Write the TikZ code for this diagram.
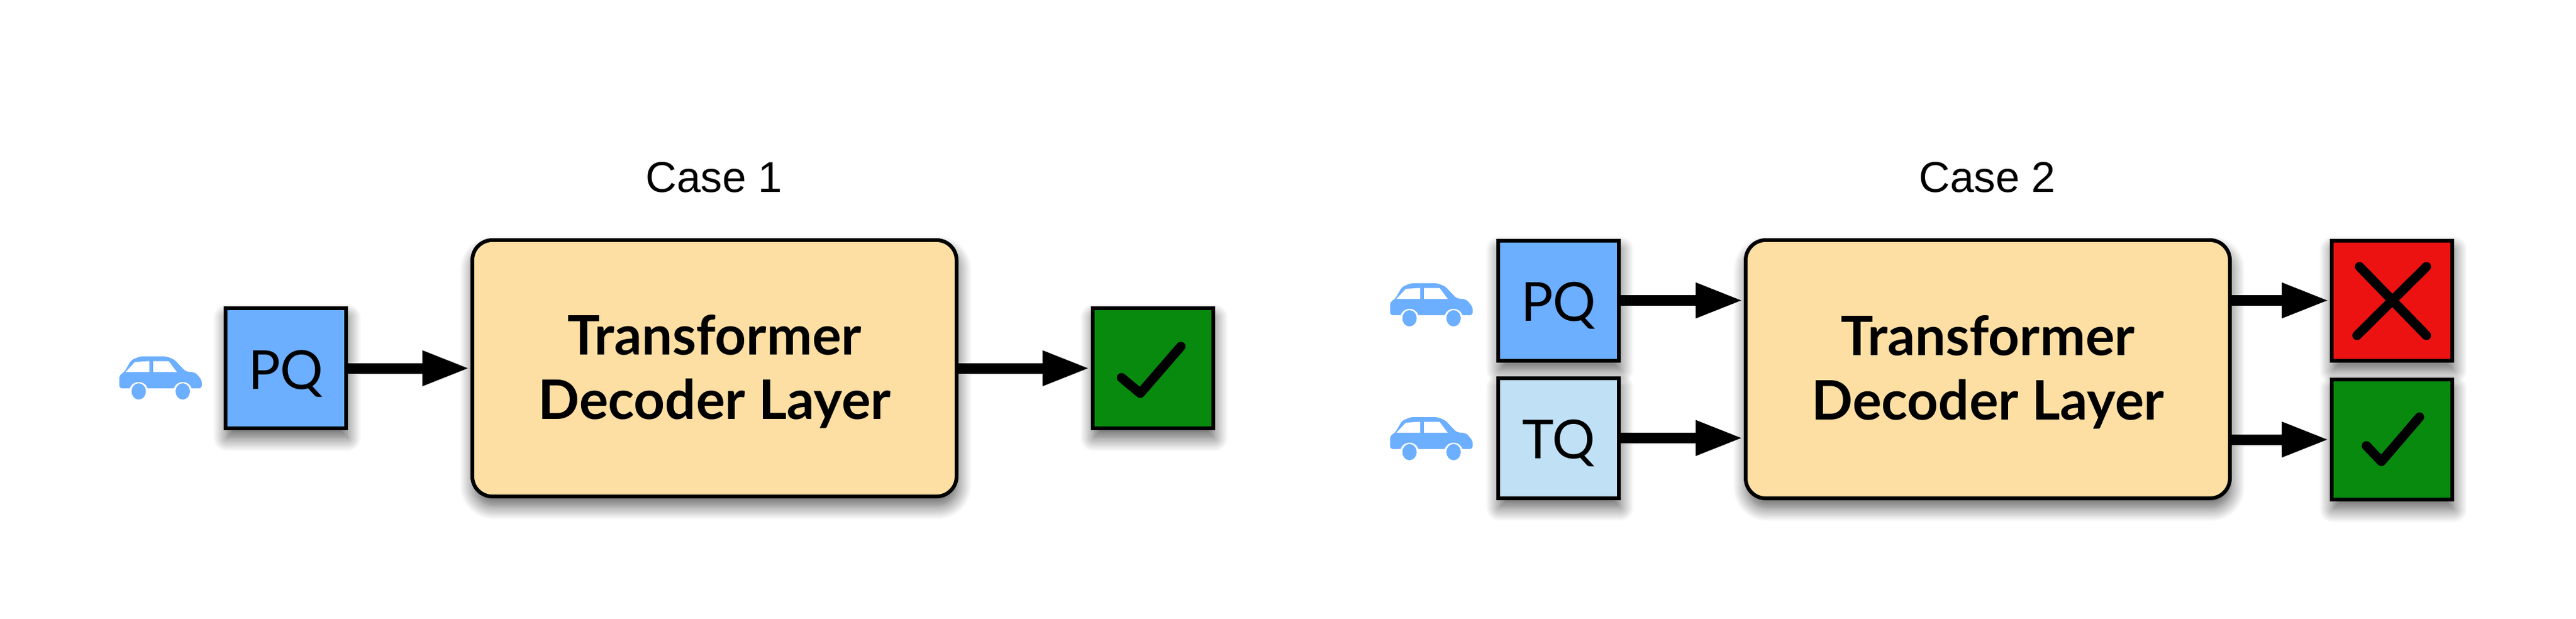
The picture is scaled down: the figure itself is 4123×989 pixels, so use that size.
\documentclass[tikz,border=0pt]{standalone}
\usepackage{fontspec}
\setmainfont{Liberation Sans}
\newfontfamily\labfont{Lato}
\usetikzlibrary{arrows.meta,shadows.blur,calc}
\definecolor{pqblue}{HTML}{6CAEFF}
\definecolor{tqblue}{HTML}{BFE0F5}
\definecolor{decfill}{HTML}{FDDFA3}
\definecolor{okgreen}{HTML}{078A0E}
\definecolor{badred}{HTML}{EC1212}
\newcommand{\declabel}{\rule{0pt}{74pt}Transformer\\Decoder Layer}
\tikzset{
  softshadow/.style={blur shadow={shadow xshift=2pt,shadow yshift=-15pt,shadow blur radius=22pt,shadow opacity=65,shadow blur steps=16}},
  qbox/.style={draw=black,line width=6pt,inner sep=0pt,minimum width=193pt,minimum height=192pt,softshadow,text height=66pt,text depth=0pt,font=\labfont\fontsize{86}{90}\selectfont},
  decbox/.style={draw=black,line width=6pt,fill=decfill,rounded corners=32pt,inner sep=0pt,softshadow,align=center,font=\labfont\bfseries\fontsize{87}{103}\selectfont},
  conn/.style={line width=17pt,-{Triangle[length=76pt,width=52pt]},shorten >=1pt},
  markstroke/.style={line width=15pt,line cap=round,line join=round,draw=black},
  caselabel/.style={anchor=base,font=\fontsize{69}{72}\selectfont,inner sep=0pt},
  pics/caricon/.style={code={
    \fill[pqblue,rounded corners=4pt] (0,51) -- (0,30) -- (8,25) -- (19,6) -- (33,0) -- (75,0) -- (88,5) -- (106,24) -- (122,26) -- (132,38) -- (132,51) -- cycle;
    \fill[white] (10,25) -- (25,9) -- (48,7.5) -- (48,25) -- cycle;
    \fill[white] (54,7.5) -- (79,7.5) -- (92,25) -- (54,25) -- cycle;
    \fill[white] (31,56) circle[radius=15pt];
    \fill[white] (101.5,56) circle[radius=15pt];
    \fill[pqblue] (31,56) ellipse[x radius=11.5pt,y radius=13pt];
    \fill[pqblue] (101.5,56) ellipse[x radius=11.5pt,y radius=13pt];
  }}
}
\begin{document}
\begin{tikzpicture}[x=1pt,y=-1pt]
\useasboundingbox (0,0) rectangle (4123,989);
% Case 1
\node[caselabel] (c1) at (1143,307) {Case 1};
\node[qbox,fill=pqblue] (pq1) at (457.5,589) {PQ};
\node[decbox,minimum width=775pt,minimum height=410pt] (d1) at (1143.5,589) {\declabel};
\node[qbox,fill=okgreen] (g1) at (1845,589) {};
\pic at (191,570) {caricon};
\draw[conn] (pq1.east) -- (d1.west);
\draw[conn] (d1.east) -- (g1.west);
\begin{scope}[shift={(g1.center)}]
  \draw[markstroke] (-50,15) -- (-20,40) -- (45,-35);
\end{scope}
% Case 2
\node[caselabel] (c2) at (3181,307) {Case 2};
\node[qbox,fill=pqblue] (pq2) at (2494.5,480.5) {PQ};
\node[qbox,fill=tqblue] (tq) at (2494.5,700.5) {TQ};
\node[decbox,minimum width=775pt,minimum height=413pt] (d2) at (3181.5,590.5) {\declabel};
\node[qbox,fill=badred] (r2) at (3828.5,480.5) {};
\node[qbox,fill=okgreen] (g2) at (3828.5,703) {};
\pic at (2225,453) {caricon};
\pic at (2225,667) {caricon};
\draw[conn] (pq2.east) -- (pq2.east -| d2.west);
\draw[conn] (tq.east) -- (tq.east -| d2.west);
\draw[conn] (r2.west -| d2.east) -- (r2.west);
\draw[conn] (g2.west -| d2.east) -- (g2.west);
\begin{scope}[shift={(r2.center)}]
  \draw[markstroke] (-52,-54) -- (55,56);
  \draw[markstroke] (55,-54) -- (-56,56);
\end{scope}
\begin{scope}[shift={(g2.center)}]
  \draw[markstroke] (-41,10) -- (-17,35) -- (44,-36);
\end{scope}
\end{tikzpicture}
\end{document}
